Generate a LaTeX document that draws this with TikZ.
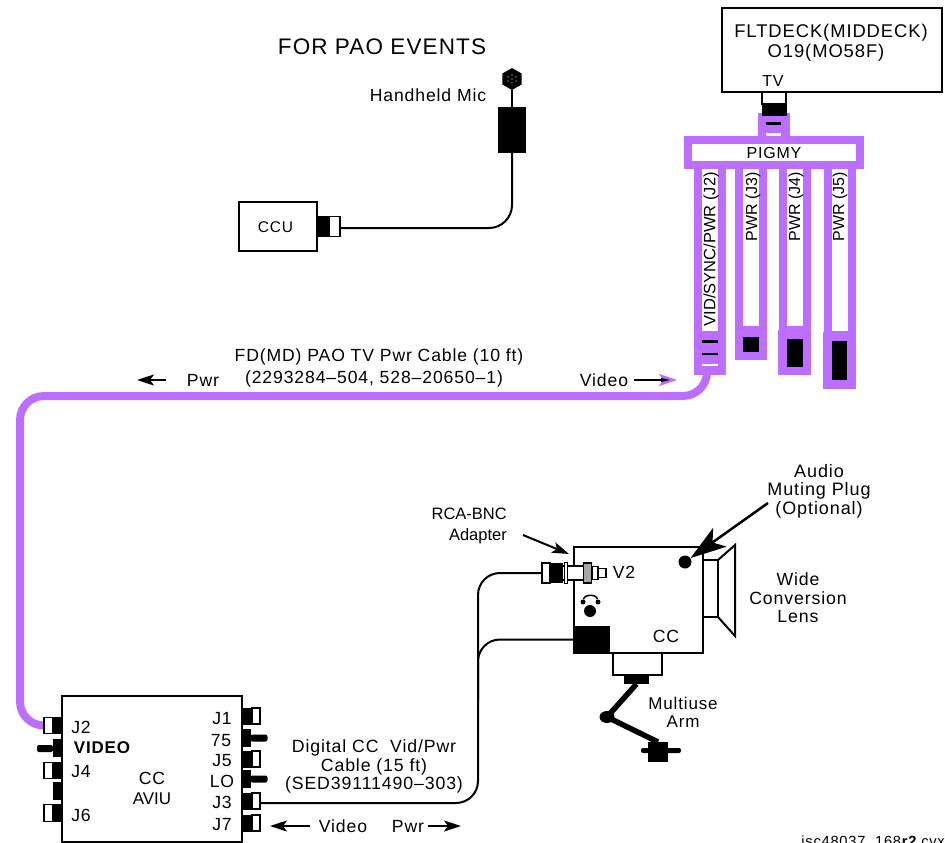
\documentclass[tikz,border=0pt]{standalone}
\usepackage{fontspec}
\setmainfont{Liberation Sans}[LetterSpace=5]
\newfontfamily\plainfam{Liberation Sans}
\usetikzlibrary{arrows.meta,shapes.geometric,backgrounds}
\definecolor{pigmypurple}{HTML}{BB6EFF}
\newcommand{\sized}[1]{\fontsize{#1}{#1}\selectfont}
\begin{document}
\begin{tikzpicture}[x=1pt,y=-1pt,>={Stealth[length=17pt,width=11pt,inset=4pt]}]
      \tikzset{
        box/.style={draw, line width=1.8pt, fill=white, inner sep=0pt, outer sep=0pt},
        part/.style={draw, line width=1.3pt, fill=white, inner sep=0pt, outer sep=0pt},
        solid part/.style={fill=black, inner sep=0pt, outer sep=0pt},
        purple part/.style={fill=pigmypurple, inner sep=0pt, outer sep=0pt},
        leg/.style={draw=pigmypurple, line width=8pt, fill=white, inner sep=0pt, outer sep=0pt, minimum width=24pt},
        lbl/.style={inner sep=0pt, align=center, font=\sized{17.6}, text depth=0pt},
        stacklbl/.style={inner sep=0pt, align=center, font=\fontsize{17.7}{18.5}\selectfont, text depth=0pt},
        rotlbl/.style={inner sep=0pt, font=\plainfam\sized{16}, rotate=90, anchor=east},
        cable/.style={line width=2pt},
        vidcable/.style={draw=pigmypurple, line width=8pt},
        callout/.style={line width=2pt, ->}
      }
      \useasboundingbox (0,0) rectangle (945,843);
      % top left
      \node[lbl, font=\sized{22.5}] (title) at (382,47) {FOR PAO EVENTS};
      \node[lbl] (miclbl) at (428,95) {Handheld Mic};
      \node[regular polygon, regular polygon sides=6, shape border rotate=30, fill=black, inner sep=0pt, minimum size=22pt] (mic) at (512,79) {};
      \foreach \dx/\dy in {-4/-2,0/-4,4/-2,-4/2,0/4,4/2,0/0}
        \fill[white] ([xshift=\dx,yshift=\dy]mic.center) circle (0.6pt);
      \node[solid part, minimum width=28pt, minimum height=46pt] (micbody) at (512,130) {};
      \node[box, minimum width=78pt, minimum height=49pt] (ccu) at (278,226.5) {};
      \node[lbl, font=\sized{15.5}] (ccultxt) at (275.5,227) {CCU};
      \node[part, minimum width=11pt, minimum height=20pt] (ccuplug) at (334.5,226.5) {};
      \node[solid part, minimum width=12pt, minimum height=21pt] (ccublk) at (323,226.5) {};
      \coordinate (micbend) at (512,228);
      \draw[cable] (mic) -- (micbody);
      \draw[cable, rounded corners=23pt] (micbody.south) -- (micbend) -- (ccuplug.east |- micbend);
      % flight deck box and pigmy
      \node[box, minimum width=220pt, minimum height=84pt] (flt) at (832,50) {};
      \node[lbl, font=\sized{18.4}] (fltlbl) at (831,31) {FLTDECK(MIDDECK)};
      \node[lbl, font=\sized{18.4}] (olbl) at (826,51) {O19(MO58F)};
      \node[lbl, font=\sized{16}] (tvlbl) at (773,81) {TV};
      \node[part, minimum width=24pt, minimum height=12pt] (tvplug) at (774,98) {};
      \node[purple part, minimum width=32pt, minimum height=24pt] (stem) at (774,125) {};
      \node[solid part, minimum width=25pt, minimum height=13pt] (tvblk) at (774.5,109.5) {};
      \node[solid part, minimum width=15pt, minimum height=3pt] (stembar) at (773.5,123.5) {};
      \node[fill=white, inner sep=0pt, minimum width=15pt, minimum height=3pt] (stemgap) at (773.5,134.5) {};
      \node[leg, minimum height=170pt] (legA) at (710,250) {};
      \node[leg, minimum height=165pt] (legB) at (751,247.5) {};
      \node[leg, minimum height=165pt] (legC) at (795,247.5) {};
      \node[leg, minimum height=170pt] (legD) at (839.5,250) {};
      \node[draw=pigmypurple, line width=8pt, fill=white, inner sep=0pt, outer sep=0pt, minimum width=172pt, minimum height=25pt, font=\sized{16}] (pigmy) at (774,152.5) {PIGMY};
      \node[rotlbl, font=\plainfam\sized{16.5}] (legAlbl) at (711,172) {VID/SYNC/PWR (J2)};
      \node[rotlbl] (legBlbl) at (753,172) {PWR (J3)};
      \node[rotlbl] (legClbl) at (796,172) {PWR (J4)};
      \node[rotlbl] (legDlbl) at (840,172) {PWR (J5)};
      % pigmy ends
      \node[purple part, minimum width=32pt, minimum height=44pt] (blockA) at (710,353) {};
      \node[solid part, minimum width=16pt, minimum height=3pt] (barA) at (710,341.5) {};
      \node[solid part, minimum width=16pt, minimum height=2.5pt] (barB) at (710,354) {};
      \node[fill=white, inner sep=0pt, minimum width=16pt, minimum height=2.5pt] (barC) at (710,365) {};
      \node[purple part, minimum width=32pt, minimum height=32pt] (blockB) at (751,344) {};
      \node[solid part, minimum width=16pt, minimum height=15pt] (plugB) at (751,344.5) {};
      \node[purple part, minimum width=33pt, minimum height=45pt] (blockC) at (794.5,352.5) {};
      \node[solid part, minimum width=16pt, minimum height=28pt] (plugC) at (795,353) {};
      \node[purple part, minimum width=33pt, minimum height=57pt] (blockD) at (839.5,360.5) {};
      \node[solid part, minimum width=15pt, minimum height=39pt] (plugD) at (839.5,360.5) {};
      \node[lbl] (fdlbl) at (379,355) {FD(MD) PAO TV Pwr Cable (10 ft)};
      \node[lbl] (pnlbl) at (374,377) {(2293284--504, 528--20650--1)};
      \node[lbl] (pwrlbl) at (203,380) {Pwr};
      \node[lbl] (vidlbl) at (604,380) {Video};
      \coordinate (pwrtail) at (166,380);
      \coordinate (pwrtip) at (137,380);
      \coordinate (vidtail) at (634,380);
      \coordinate (vidtip) at (677,380);
      \draw[cable, ->] (pwrtail) -- (pwrtip);
      \draw[cable, -{Stealth[length=18pt,width=12pt,inset=4pt,color=pigmypurple]}] (vidtail) -- (vidtip);
      \fill (661,378) -- (670,380) -- (661,382) -- cycle;
      % aviu
      \node[box, minimum width=180pt, minimum height=146pt] (aviu) at (152,769) {};
      \node[lbl] (ccalbl) at (152,778) {CC};
      \node[lbl, font=\plainfam\sized{17}] (avlbl) at (152,799) {AVIU};
      \foreach \nm/\xx/\yy/\tt in {aJ2/81/727/J2,aJ4/81/771/J4,aJ6/81/815/J6,aJ1/222/718/J1,aJ5/222/760/J5,aJ3/222/802/J3,aJ7/222/824/J7,aSF/221/740/75,aLO/222/781/LO}
        \node[lbl] (\nm) at (\xx,\yy) {\tt};
      \node[lbl, font=\sized{17}\bfseries] (alVid) at (102,748) {VIDEO};
      % left side connectors
      \node[part, minimum width=9pt, minimum height=16pt] (aviuJ2) at (48.5,725.5) {};
      \node[solid part, minimum width=9pt, minimum height=17pt] (blkJ2) at (57.5,725.5) {};
      \node[solid part, minimum width=9pt, minimum height=18pt] (blkVid) at (57.5,748) {};
      \node[solid part, minimum width=16pt, minimum height=7pt, rounded corners=2pt] (barVid) at (45,748.5) {};
      \node[part, minimum width=9pt, minimum height=16pt] (plugJ4) at (48.5,770.5) {};
      \node[solid part, minimum width=9pt, minimum height=17pt] (blkJ4) at (57.5,770.5) {};
      \node[solid part, minimum width=9pt, minimum height=18pt] (blkSp) at (57.5,791) {};
      \node[part, minimum width=9pt, minimum height=17pt] (plugJ6) at (48.5,813) {};
      \node[solid part, minimum width=9pt, minimum height=18pt] (blkJ6) at (57.5,813) {};
      % right side connectors
      \foreach \nm/\yy in {J1/716,J5/759,J3/801,J7/823} {
        \node[part, minimum width=8pt, minimum height=16pt] (plug\nm) at (256,\yy) {};
        \node[solid part, minimum width=10pt, minimum height=17pt] (blk\nm) at (247,\yy) {};
      }
      \foreach \nm/\yy in {SF/738,LO/779} {
        \node[solid part, minimum width=9pt, minimum height=18pt] (blk\nm) at (246.5,\yy) {};
        \node[solid part, minimum width=17pt, minimum height=7pt, rounded corners=2pt] (bar\nm) at (259,\yy) {};
      }
      % video cable
      \coordinate (vidcorner) at (20,396);
      \begin{scope}[on background layer]
      \draw[vidcable, rounded corners=24pt] ([xshift=-3pt]blockA.center) -- (707,396) -- (vidcorner) -- (20,725.5) -- (aviuJ2.west);
      \end{scope}
      % digital cable
      \coordinate (digcorner) at (478,803);
      \coordinate (digsplit) at (478,700);
      \coordinate (vidleft) at (270,826);
      \coordinate (pwrright) at (461,826);
      \node[stacklbl] (diglbl) at (374,765) {Digital CC\ \ Vid/Pwr\\Cable (15 ft)\\(SED39111490--303)};
      \node[lbl] (dvid) at (343,826) {Video};
      \node[lbl] (dpwr) at (408,826) {Pwr};
      \draw[cable, ->] (dvid.west) ++(-9pt,0) -- (vidleft);
      \draw[cable, ->] (dpwr.east) ++(4pt,0) -- (pwrright);
      % camera
      \node[box, line width=2pt, minimum width=129pt, minimum height=106pt] (cam) at (638.5,600) {};
      \node[solid part, minimum width=36pt, minimum height=27pt] (camblk) at (592,639.5) {};
      \node[box, minimum width=49pt, minimum height=22pt] (mount) at (637.5,664) {};
      \node[solid part, minimum width=25pt, minimum height=8pt] (mountblk) at (636.5,680) {};
      \node[part, minimum width=8pt, minimum height=20pt] (rcaend) at (546,573) {};
      \node[solid part, minimum width=13pt, minimum height=20pt] (rcablk) at (556.5,573) {};
      \node[part, minimum width=21pt, minimum height=14pt] (rcabody) at (573,573) {};
      \node[part, minimum width=3pt, minimum height=21pt] (rcanut) at (566,573) {};
      \node[part, minimum width=6pt, minimum height=13pt] (rcaneck) at (595,573) {};
      \node[part, minimum width=8pt, minimum height=9pt] (rcatip) at (602,573) {};
      \node[part, fill=black!35, minimum width=8pt, minimum height=20pt] (rcaring) at (587.5,573) {};
      \draw[cable, rounded corners=22pt] ([yshift=-2pt]plugJ3.east) -- (digcorner) -- (478,573) -- (rcaend.west);
      \draw[cable, rounded corners=22pt] (digsplit) -- (478,639.5) -- (camblk.west);
      \node[lbl] (v2lbl) at (624,572) {V2};
      \node[lbl] (cclbl) at (666,636) {CC};
      \node[circle, fill=black, inner sep=0pt, minimum size=12pt] (phone) at (590,611) {};
      \node[circle, fill=black, inner sep=0pt, minimum size=5pt] (phoneL) at (583,602) {};
      \node[circle, fill=black, inner sep=0pt, minimum size=5pt] (phoneR) at (598,602) {};
      \draw[line width=1.5pt] (phoneL) to[out=80,in=100] (phoneR);
      % lens
      \node[box, line width=2pt, minimum width=15pt, minimum height=57pt] (lens) at (710.5,588.5) {};
      \draw[line width=2pt, line join=miter] (lens.north east) -- (735,545) -- (735,636) -- (lens.south east);
      % arm
      \node[ellipse, fill=black, inner sep=0pt, minimum width=15pt, minimum height=12pt] (elbow) at (607,717) {};
      \node[solid part, minimum width=40pt, minimum height=5pt, rounded corners=2pt] (footbar) at (661,750.5) {};
      \node[solid part, minimum width=20pt, minimum height=20pt] (foot) at (658,752) {};
      \draw[line width=5.5pt] (mountblk.south) -- (elbow.center) -- (foot.north);
      % callouts
      \node[inner sep=0pt, align=right, anchor=east, font=\plainfam\fontsize{16.5}{21}\selectfont] (rcalbl) at (507,526) {RCA-BNC\\Adapter};
      \coordinate (rcafrom) at (523,535);
      \draw[callout] (rcafrom) -- (569,554);
      \node[circle, fill=black, inner sep=0pt, minimum size=13pt] (mute) at (685,562) {};
      \node[stacklbl, font=\fontsize{18}{18.5}\selectfont] (mutelbl) at (819,489) {Audio\\Muting Plug\\(Optional)};
      \coordinate (mutefrom) at (768,503);
      \draw[line width=2.5pt, -{Stealth[length=36pt,width=23pt,inset=9pt]}] (mutefrom) -- (mute);
      \node[stacklbl] (lenslbl) at (798,598) {Wide\\Conversion\\Lens};
      \node[stacklbl, font=\fontsize{17}{18}\selectfont] (armlbl) at (683,712) {Multiuse\\Arm};
      \node[inner sep=0pt, anchor=base east, font=\sized{14.7}] (filelbl) at (945,846) {jsc48037\_168\textbf{r2}.cvx};
    \end{tikzpicture}
\end{document}
